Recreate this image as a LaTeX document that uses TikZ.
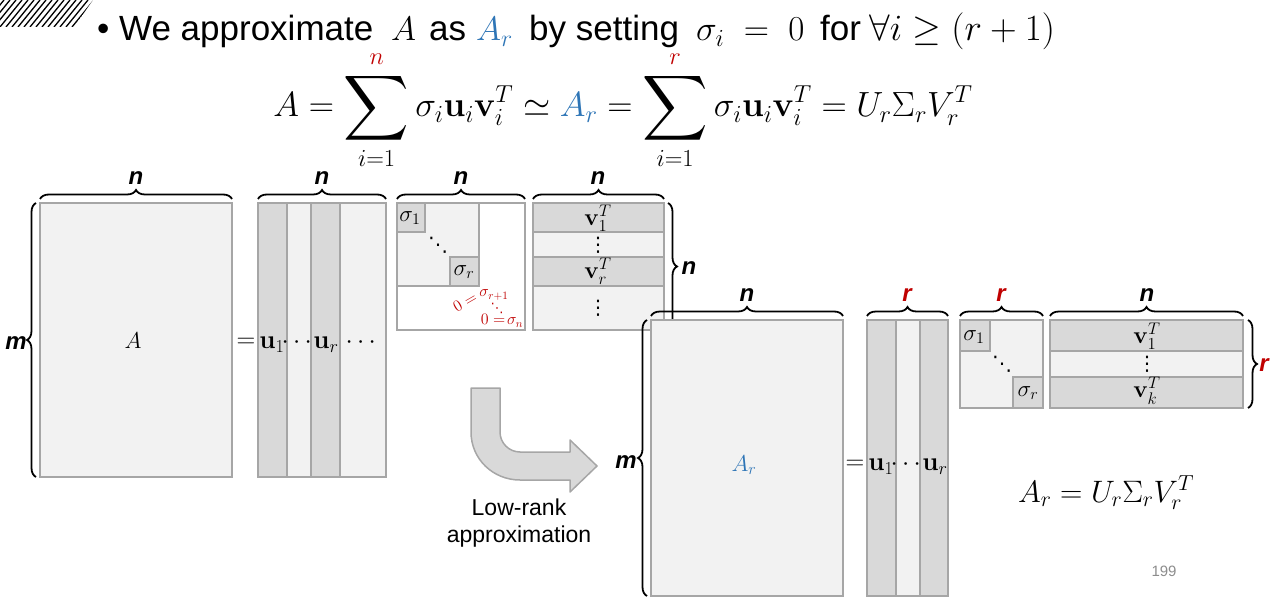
\documentclass[tikz,border=0pt]{standalone}
\usepackage{fix-cm}
\usepackage{amsmath,amssymb}
\usepackage{graphicx}
\usepackage[no-math]{fontspec}
\setmainfont{Liberation Sans}
\newfontfamily\dejavu{DejaVu Sans}
\usetikzlibrary{decorations.pathreplacing}
\definecolor{lg}{HTML}{F2F2F2}
\definecolor{dg}{HTML}{D9D9D9}
\definecolor{bd}{HTML}{A6A6A6}
\definecolor{myred}{HTML}{C00000}
\definecolor{myblue}{HTML}{2E75B6}
\definecolor{pgnum}{HTML}{8C8C8C}
\newcommand\fsz[1]{\fontsize{#1}{#1}\selectfont}
\newcommand\myvd{{\dejavu ⋮}}
\newcommand\mydd{{\dejavu ⋱}}
\newcommand\bsum{\mathop{\vcenter{\hbox{\scalebox{1.3}{$\displaystyle\sum$}}}}\limits}
\tikzset{
  mat/.style={draw=bd, line width=2.5pt},
  lgt/.style={mat, fill=lg},
  drk/.style={mat, fill=dg},
  wht/.style={mat, fill=white},
  brc/.style={decorate, decoration={brace, amplitude=9pt}, line width=1.8pt},
  blab/.style={font=\fsz{24}\bfseries\itshape, inner sep=0pt},
  ml/.style={font=\fsz{23}, inner sep=0pt},
  vl/.style={font=\fsz{24}, inner sep=0pt},
  ul/.style={font=\fsz{26}, inner sep=0pt},
  redl/.style={font=\fsz{16}, text=myred, inner sep=0pt},
  tt/.style={anchor=base west, inner sep=0pt, font=\fsz{35}},
  bigarrow/.style={fill=dg, draw=bd, line width=1.5pt, line join=round},
}
\begin{document}
\begin{tikzpicture}[x=1pt,y=-1pt]
\useasboundingbox (0,0) rectangle (1271,601);
% hatched corner
\begin{scope}
\clip (0,0) -- (93,0) -- (74,27) -- (0,27) -- cycle;
\foreach \i in {-30,-24,...,100} \draw[line width=1.3pt] (\i,27) -- (\i+22,0);
\end{scope}
% title line
\node[tt] (t1) at (97,41) {\textbullet\ We approximate};
\node[tt, font=\fsz{34}] (t2) at (391,41) {$A$};
\node[tt] (t3) at (429,41) {as};
\node[tt, font=\fsz{34}] (t4) at (476,41) {$\textcolor{myblue}{A_r}$};
\node[tt] (t5) at (529,41) {by setting};
\node[tt] (t6) at (696,41) {$\sigma_i\;=\;0$};
\node[tt] (t7) at (820,41) {for};
\node[tt, font=\fsz{37}] (t8) at (869,41) {$\forall i\geq(r+1)$};
\node[anchor=base, inner sep=0pt, font=\fsz{35}] (formula) at (623,117)
  {$\displaystyle A=\bsum_{i=1}^{\textcolor{myred}{n}}\sigma_i\mathbf{u}_i\mathbf{v}_i^T\simeq\textcolor{myblue}{A_r}=\bsum_{i=1}^{\textcolor{myred}{r}}\sigma_i\mathbf{u}_i\mathbf{v}_i^T=U_r\Sigma_rV_r^T$};

% ---------- left: A
\draw[lgt] (40,203) rectangle (232,477);
\node[ml] (lA) at (133,341) {$A$};
% U
\draw[drk] (258,203) rectangle (287,477);
\draw[lgt] (287,203) rectangle (311,477);
\draw[drk] (311,203) rectangle (340,477);
\draw[lgt] (340,203) rectangle (386,477);
\node[ul] (eq1) at (246,343) {$=$};
\node[ul] (u1) at (272,345) {$\mathbf{u}_1$};
\node[ul] (cd1) at (299,343) {$\cdots$};
\node[ul] (ur) at (326,345) {$\mathbf{u}_r$};
\node[ul] (cd2) at (363,343) {$\cdots$};
% Sigma
\draw[wht] (397,203) rectangle (525,330);
\draw[lgt] (397,203) rectangle (479,286);
\draw[drk] (397,203) rectangle (425,232);
\draw[drk] (450,257) rectangle (479,286);
\node[ml] (s1) at (410,218) {$\sigma_1$};
\node[font=\fsz{20}, inner sep=0pt] (sd) at (438,245) {\mydd};
\node[ml] (sr) at (464,272) {$\sigma_r$};
\node[redl, rotate=30] (z1) at (465,302) {$0=$};
\node[redl] (sr1) at (494,295) {$\sigma_{r+1}$};
\node[redl, font=\fsz{13}] (zd) at (497,308) {\mydd};
\node[redl] (z2) at (502,321) {$0=\!\sigma_n$};
% V^T
\draw[drk] (533,203) rectangle (664,232);
\draw[lgt] (533,232) rectangle (664,257);
\draw[drk] (533,257) rectangle (664,286);
\draw[lgt] (533,286) rectangle (664,330);
\node[vl] (v1) at (598,218) {$\mathbf{v}_1^T$};
\node[vl, font=\fsz{20}] (vd1) at (598,245) {\myvd};
\node[vl] (vr) at (598,271) {$\mathbf{v}_r^T$};
\node[vl, font=\fsz{20}] (vd2) at (598,308) {\myvd};
% braces left
\draw[brc] (40,199) -- (232,199);
\node[blab] (bn1) at (136,178) {n};
\draw[brc] (258,199) -- (386,199);
\node[blab] (bn2) at (322,178) {n};
\draw[brc] (397,199) -- (525,199);
\node[blab] (bn3) at (461,178) {n};
\draw[brc] (533,199) -- (664,199);
\node[blab] (bn4) at (598,178) {n};
\draw[brc] (36,477) -- (36,203);
\node[blab] (bm1) at (16,343) {m};
\draw[brc] (668,203) -- (668,330);
\node[blab] (bn5) at (689,268) {n};

% ---------- arrow
\draw[bigarrow] (471,388) -- (471,432) .. controls (471,459) and (493,480) .. (520,480)
  -- (570,480) -- (570,492) -- (597,466) -- (570,440) -- (570,452) -- (520,452)
  .. controls (509,452) and (500,443) .. (500,432) -- (500,388) -- cycle;
\node[font=\fsz{23}, align=center, inner sep=0pt] (lra) at (519,523) {Low-rank\\[4pt]approximation};

% ---------- right: A_r
\draw[lgt] (651,320) rectangle (843,596);
\node[ml] (lAr) at (744,465) {$\textcolor{myblue}{A_r}$};
% U_r
\draw[drk] (867,320) rectangle (896,596);
\draw[lgt] (896,320) rectangle (920,596);
\draw[drk] (920,320) rectangle (948,596);
\node[ul] (eq2) at (855,465) {$=$};
\node[ul] (ru1) at (881,467) {$\mathbf{u}_1$};
\node[ul] (rcd) at (908,465) {$\cdots$};
\node[ul] (rur) at (935,467) {$\mathbf{u}_r$};
% Sigma_r
\draw[lgt] (960,320) rectangle (1043,408);
\draw[drk] (960,320) rectangle (990,351);
\draw[drk] (1013,377) rectangle (1043,408);
\node[ml] (rs1) at (974,337) {$\sigma_1$};
\node[font=\fsz{20}, inner sep=0pt] (rsd) at (1002,364) {\mydd};
\node[ml] (rsr) at (1028,393) {$\sigma_r$};
% V_r^T
\draw[drk] (1050,320) rectangle (1243,351);
\draw[lgt] (1050,351) rectangle (1243,377);
\draw[drk] (1050,377) rectangle (1243,408);
\node[vl] (rv1) at (1147,336) {$\mathbf{v}_1^T$};
\node[vl, font=\fsz{20}] (rvd) at (1147,364) {\myvd};
\node[vl] (rvk) at (1147,391) {$\mathbf{v}_k^T$};
% braces right
\draw[brc] (651,316) -- (843,316);
\node[blab] (rbn1) at (747,295) {n};
\draw[brc] (867,316) -- (948,316);
\node[blab, text=myred] (rbr1) at (907,295) {r};
\draw[brc] (960,316) -- (1043,316);
\node[blab, text=myred] (rbr2) at (1001,295) {r};
\draw[brc] (1050,316) -- (1243,316);
\node[blab] (rbn2) at (1147,295) {n};
\draw[brc] (647,596) -- (647,320);
\node[blab] (rbm) at (626,462) {m};
\draw[brc] (1248,320) -- (1248,408);
\node[blab, text=myred] (rbr3) at (1264,365) {r};

% ---------- bottom formula and page number
\node[anchor=base, inner sep=0pt, font=\fsz{31}] (arf) at (1106,502) {$A_r=U_r\Sigma_rV_r^T$};
\node[font=\fsz{15}, text=pgnum, inner sep=0pt] (pg) at (1164,571) {199};
\end{tikzpicture}
\end{document}
